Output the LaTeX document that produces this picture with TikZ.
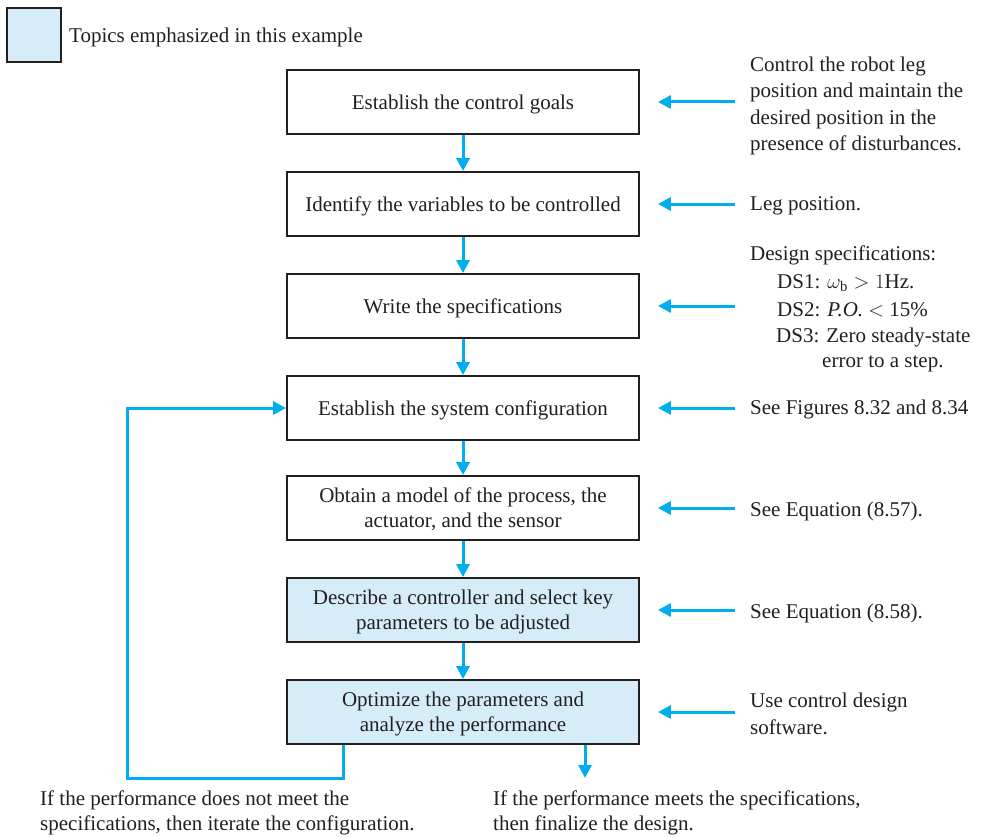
\documentclass[tikz,border=0pt]{standalone}
\usepackage{fontspec}
\setmainfont{Liberation Serif}
\usetikzlibrary{arrows.meta,calc}
\definecolor{flowblue}{HTML}{00AEEF}
\definecolor{emph}{HTML}{D6EDF9}
\definecolor{ink}{HTML}{231F20}
\begin{document}
\begin{tikzpicture}[x=1pt,y=-1pt,
  every node/.style={font=\fontsize{21}{25}\selectfont, text=ink},
  stepbox/.style={draw=ink, line width=1.8pt, minimum width=352pt, minimum height=64pt, align=center, inner sep=0pt, fill=white, text depth=0pt},
  emphbox/.style={stepbox, fill=emph},
  note/.style={anchor=west, align=left, inner sep=0pt, yshift=-2pt, font=\fontsize{21}{26.5}\selectfont},
  bottomnote/.style={anchor=west, align=left, inner sep=0pt, yshift=-2pt, font=\fontsize{21}{25}\selectfont},
  flow/.style={draw=flowblue, line width=3pt, -{Triangle[width=13pt,length=13pt]}}]
\useasboundingbox (0,0) rectangle (981,837);

% legend
\node[draw=ink, line width=1.8pt, fill=emph, minimum size=54pt, inner sep=0pt] (leg) at (34,35) {};
\node[note] (legtext) at (69,35) {Topics emphasized in this example};

% steps
\node[stepbox] (b1) at (463,102) {Establish the control goals};
\node[stepbox] (b2) at (463,204) {Identify the variables to be controlled};
\node[stepbox] (b3) at (463,306) {Write the specifications};
\node[stepbox] (b4) at (463,408) {Establish the system configuration};
\node[stepbox] (b5) at (463,508) {Obtain a model of the process, the\\actuator, and the sensor};
\node[emphbox] (b6) at (463,610) {Describe a controller and select key\\parameters to be adjusted};
\node[emphbox] (b7) at (463,712) {Optimize the parameters and\\analyze the performance};

\draw[flow] (b1) -- (b2);
\draw[flow] (b2) -- (b3);
\draw[flow] (b3) -- (b4);
\draw[flow] (b4) -- (b5);
\draw[flow] (b5) -- (b6);
\draw[flow] (b6) -- (b7);

% annotations
\node[note] (n1) at (750,104) {Control the robot leg\\position and maintain the\\desired position in the\\presence of disturbances.};
\node[note] (n2) at (750,204) {Leg position.};
\node[note] (n3a) at (750,253) {Design specifications:};
\node[note] (n3b) at (777,281) {DS1: $\omega_{\mathrm{b}} > 1$Hz.};
\node[note] (n3c) at (777,308) {DS2: \textit{P.O.} $<$ 15\%};
\node[note] (n3d) at (776,335) {DS3: Zero steady-state};
\node[note] (n3e) at (822,362) {error to a step.};
\node[note] (n4) at (750,407) {See Figures 8.32 and 8.34};
\node[note] (n5) at (750,509) {See Equation (8.57).};
\node[note] (n6) at (750,611) {See Equation (8.58).};
\node[note] (n7) at (750,712) {Use control design\\software.};

\foreach \b in {b1,b2,b3,b4,b5,b6,b7}{
  \draw[flow] ([xshift=95pt]\b.east) -- ([xshift=18pt]\b.east);
}

% feedback loop and exit
\coordinate (lpA) at (343,778);
\coordinate (lpB) at (127,778);
\draw[flow] (b7.south -| lpA) -- (lpA) -- (lpB) |- (b4.west);
\coordinate (ex) at (585,778);
\draw[flow] (b7.south -| ex) -- (ex);

\node[bottomnote] (fail) at (40,811) {If the performance does not meet the\\specifications, then iterate the configuration.};
\node[bottomnote] (pass) at (493,811) {If the performance meets the specifications,\\then finalize the design.};
\end{tikzpicture}
\end{document}
